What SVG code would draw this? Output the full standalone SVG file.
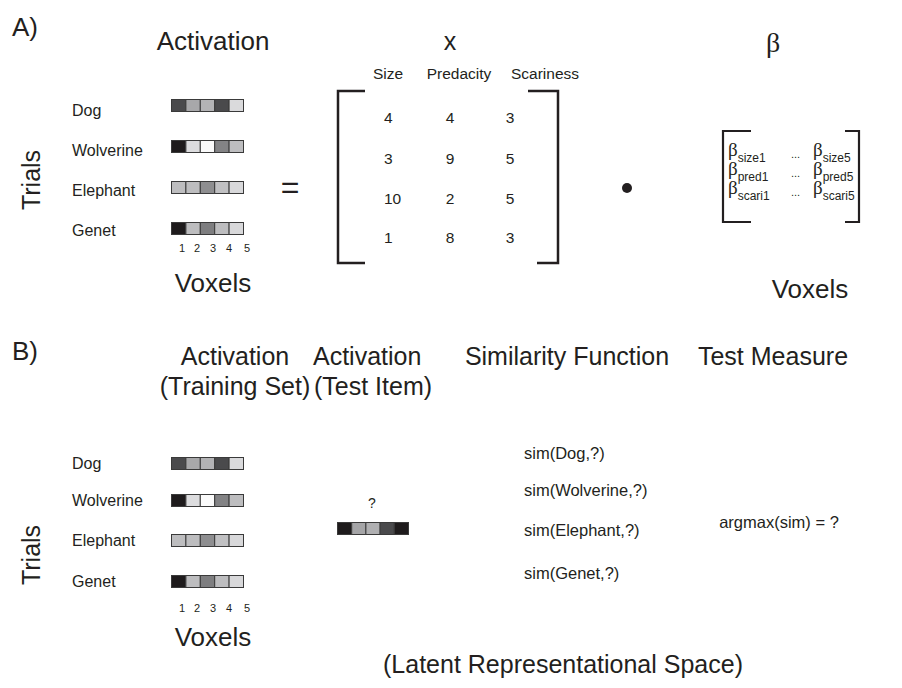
<svg xmlns="http://www.w3.org/2000/svg" width="902" height="688" viewBox="0 0 902 688">
<style>
text{font-family:"Liberation Sans",Arial,sans-serif;fill:#231f20}
.big{font-size:25px}
.lab{font-size:16px}
.num{font-size:11px}
.mx{font-size:15.5px}
.hd{font-size:15.5px}
.sim{font-size:16.5px}
.br{fill:none;stroke:#231f20;stroke-width:2.5}
.c{stroke:#3a3a3a;stroke-width:1}
.b{font-family:"Liberation Serif","Times New Roman",serif;font-size:19px}
.s{font-family:"Liberation Sans",Arial,sans-serif;font-size:12px}
.d{font-size:11px}
</style>
<defs>
<g id="dog"><rect class="c" x="0" y="0" width="14.4" height="12" fill="#4a4a4c"/><rect class="c" x="14.4" y="0" width="14.4" height="12" fill="#a8a8aa"/><rect class="c" x="28.8" y="0" width="14.4" height="12" fill="#b3b3b5"/><rect class="c" x="43.2" y="0" width="14.4" height="12" fill="#4a4a4c"/><rect class="c" x="57.6" y="0" width="14.4" height="12" fill="#dadadc"/></g>
<g id="wol"><rect class="c" x="0" y="0" width="14.4" height="12" fill="#1e1b1c"/><rect class="c" x="14.4" y="0" width="14.4" height="12" fill="#dcdcde"/><rect class="c" x="28.8" y="0" width="14.4" height="12" fill="#fafafa"/><rect class="c" x="43.2" y="0" width="14.4" height="12" fill="#838385"/><rect class="c" x="57.6" y="0" width="14.4" height="12" fill="#bdbdbf"/></g>
<g id="ele"><rect class="c" x="0" y="0" width="14.4" height="12" fill="#bdbdbf"/><rect class="c" x="14.4" y="0" width="14.4" height="12" fill="#bdbdbf"/><rect class="c" x="28.8" y="0" width="14.4" height="12" fill="#8e8e90"/><rect class="c" x="43.2" y="0" width="14.4" height="12" fill="#c0c0c2"/><rect class="c" x="57.6" y="0" width="14.4" height="12" fill="#d8d8da"/></g>
<g id="gen"><rect class="c" x="0" y="0" width="14.4" height="12" fill="#1e1b1c"/><rect class="c" x="14.4" y="0" width="14.4" height="12" fill="#bdbdbf"/><rect class="c" x="28.8" y="0" width="14.4" height="12" fill="#7e7e80"/><rect class="c" x="43.2" y="0" width="14.4" height="12" fill="#bdbdbf"/><rect class="c" x="57.6" y="0" width="14.4" height="12" fill="#d8d8da"/></g>
<g id="nums"><text class="num" x="182" y="0" text-anchor="middle">1</text><text class="num" x="197" y="0" text-anchor="middle">2</text><text class="num" x="213" y="0" text-anchor="middle">3</text><text class="num" x="229" y="0" text-anchor="middle">4</text><text class="num" x="247" y="0" text-anchor="middle">5</text></g>
</defs>

<g id="panelA">
<text class="big" x="12" y="36" style="font-size:26px">A)</text>
<text class="big" x="213" y="50" text-anchor="middle" style="font-size:26px">Activation</text>
<text class="big" x="450" y="50" text-anchor="middle">x</text>
<text class="b" x="773" y="52" text-anchor="middle" style="font-size:28px">β</text>
<text class="big" transform="translate(40,180) rotate(-90)" text-anchor="middle">Trials</text>
</g>

<g id="activationA">
<text class="lab" x="72" y="116">Dog</text>
<text class="lab" x="72" y="156">Wolverine</text>
<text class="lab" x="72" y="196">Elephant</text>
<text class="lab" x="72" y="236">Genet</text>
<use href="#dog" x="171.5" y="99.5"/>
<use href="#wol" x="171.5" y="140.5"/>
<use href="#ele" x="171.5" y="181.5"/>
<use href="#gen" x="171.5" y="222.5"/>
<use href="#nums" x="0" y="252"/>
<text class="big" x="213" y="292" text-anchor="middle" style="font-size:26px">Voxels</text>
</g>

<g id="equals"><text class="big" x="290" y="198" text-anchor="middle" style="font-size:32px">=</text></g>

<g id="matrixX">
<text class="hd" x="388" y="79" text-anchor="middle">Size</text>
<text class="hd" x="459" y="79" text-anchor="middle">Predacity</text>
<text class="hd" x="545" y="79" text-anchor="middle">Scariness</text>
<path class="br" d="M365,91 H338 V263 H365"/>
<path class="br" d="M528,91 H558 V263 H537"/>
<text class="mx" x="384" y="123">4</text><text class="mx" x="450" y="123" text-anchor="middle">4</text><text class="mx" x="510" y="123" text-anchor="middle">3</text>
<text class="mx" x="384" y="164">3</text><text class="mx" x="450" y="164" text-anchor="middle">9</text><text class="mx" x="510" y="164" text-anchor="middle">5</text>
<text class="mx" x="384" y="204">10</text><text class="mx" x="450" y="204" text-anchor="middle">2</text><text class="mx" x="510" y="204" text-anchor="middle">5</text>
<text class="mx" x="384" y="243">1</text><text class="mx" x="450" y="243" text-anchor="middle">8</text><text class="mx" x="510" y="243" text-anchor="middle">3</text>
</g>

<g id="dot"><circle cx="627" cy="188" r="5" fill="#231f20"/></g>

<g id="betaMatrix">
<path class="br" d="M751,131 H723 V222 H751" style="stroke-width:2.2"/>
<path class="br" d="M845,131 H859 V222 H845" style="stroke-width:2.2"/>
<text class="b" x="728" y="156">β<tspan class="s" dy="6">size1</tspan></text>
<text class="b" x="728" y="175">β<tspan class="s" dy="6">pred1</tspan></text>
<text class="b" x="728" y="194">β<tspan class="s" dy="6">scari1</tspan></text>
<text class="d" x="791" y="158">...</text>
<text class="d" x="791" y="177">...</text>
<text class="d" x="791" y="196">...</text>
<text class="b" x="813" y="156">β<tspan class="s" dy="6">size5</tspan></text>
<text class="b" x="813" y="175">β<tspan class="s" dy="6">pred5</tspan></text>
<text class="b" x="813" y="194">β<tspan class="s" dy="6">scari5</tspan></text>
<text class="big" x="810" y="298" text-anchor="middle" style="font-size:26px">Voxels</text>
</g>

<g id="panelB">
<text class="big" x="12" y="360" style="font-size:26px">B)</text>
<text class="big" x="235" y="365" text-anchor="middle">Activation</text>
<text class="big" x="235" y="395" text-anchor="middle">(Training Set)</text>
<text class="big" x="313" y="365">Activation</text>
<text class="big" x="314" y="395">(Test Item)</text>
<text class="big" x="567" y="365" text-anchor="middle">Similarity Function</text>
<text class="big" x="773" y="365" text-anchor="middle">Test Measure</text>
<text class="big" transform="translate(40,555) rotate(-90)" text-anchor="middle">Trials</text>
</g>

<g id="activationB">
<text class="lab" x="72" y="469">Dog</text>
<text class="lab" x="72" y="506">Wolverine</text>
<text class="lab" x="72" y="546">Elephant</text>
<text class="lab" x="72" y="587">Genet</text>
<use href="#dog" x="171.5" y="457.5"/>
<use href="#wol" x="171.5" y="494.5"/>
<use href="#ele" x="171.5" y="534.5"/>
<use href="#gen" x="171.5" y="575.5"/>
<use href="#nums" x="0" y="612"/>
<text class="big" x="213" y="646" text-anchor="middle" style="font-size:26px">Voxels</text>
</g>

<g id="testItem">
<text class="lab" x="372" y="508" text-anchor="middle" style="font-size:14px">?</text>
<rect class="c" x="337.5" y="522.5" width="14.2" height="12" fill="#1e1b1c"/>
<rect class="c" x="351.7" y="522.5" width="14.2" height="12" fill="#a5a5a7"/>
<rect class="c" x="365.9" y="522.5" width="14.2" height="12" fill="#b0b0b2"/>
<rect class="c" x="380.1" y="522.5" width="14.2" height="12" fill="#4a4a4c"/>
<rect class="c" x="394.3" y="522.5" width="14.2" height="12" fill="#1e1b1c"/>
</g>

<g id="similarity">
<text class="sim" x="524" y="459">sim(Dog,?)</text>
<text class="sim" x="524" y="496">sim(Wolverine,?)</text>
<text class="sim" x="524" y="536">sim(Elephant,?)</text>
<text class="sim" x="524" y="579">sim(Genet,?)</text>
</g>

<g id="testMeasure">
<text class="sim" x="779" y="528" text-anchor="middle">argmax(sim) = ?</text>
</g>

<g id="latent">
<text class="big" x="563" y="673" text-anchor="middle">(Latent Representational Space)</text>
</g>
<g id="connectors"/>
</svg>
